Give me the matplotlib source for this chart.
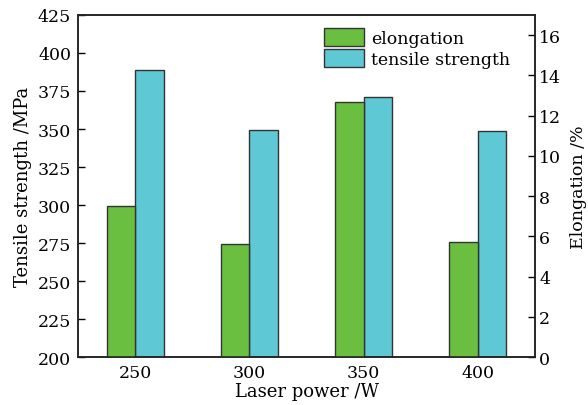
import numpy as np
import matplotlib
matplotlib.use('Agg')
import matplotlib.pyplot as plt

# data
power = [250, 300, 350, 400]
elongation = [7.5, 5.6, 12.7, 5.7]          # %
tensile = [388.5, 349.5, 371.0, 349.0]      # MPa

plt.rcParams['font.family'] = 'DejaVu Serif'
plt.rcParams['font.size'] = 12.5

green = '#6abf40'
cyan = '#5ec8d5'
edge = '#333333'
w = 12.5

fig = plt.figure(figsize=(5.88, 4.06), dpi=100)
ax = fig.add_axes([0.1327, 0.1182, 0.7772, 0.8424])
ax2 = ax.twinx()

x = np.array(power, dtype=float)
b2 = ax.bar(x + w/2, tensile, width=w, color=cyan, edgecolor=edge, linewidth=1.0,
            label='tensile strength', zorder=2)
b1 = ax2.bar(x - w/2, elongation, width=w, color=green, edgecolor=edge, linewidth=1.0,
             label='elongation', zorder=2)

ax.set_xlim(225, 425)
ax.set_ylim(200, 425)
ax.set_yticks(np.arange(200, 426, 25))
ax.set_xticks(power)
ax2.set_ylim(0, 17)
ax2.set_yticks(np.arange(0, 17, 2))

ax.tick_params(axis='y', direction='in', length=5, width=1, pad=5, right=False)
ax.tick_params(axis='x', direction='in', length=5, width=1, pad=5, top=False)
ax2.tick_params(axis='y', direction='in', length=5, width=1, pad=3, left=False)

for a in (ax, ax2):
    for s in a.spines.values():
        s.set_color('#222222')
        s.set_linewidth(1.1)

ax.set_xlabel('Laser power /W', labelpad=1, fontsize=13)
ax.set_ylabel('Tensile strength /MPa', labelpad=4, fontsize=13)
ax2.set_ylabel('Elongation /%', labelpad=6, fontsize=12.5)

ax2.legend([b1, b2], ['elongation', 'tensile strength'], loc='upper left',
           bbox_to_anchor=(0.52, 0.988), frameon=False, borderpad=0,
           handlelength=2.3, handleheight=1.2, labelspacing=0.15,
           handletextpad=0.4, fontsize=12.5)

fig.savefig('out.png', dpi=100)
